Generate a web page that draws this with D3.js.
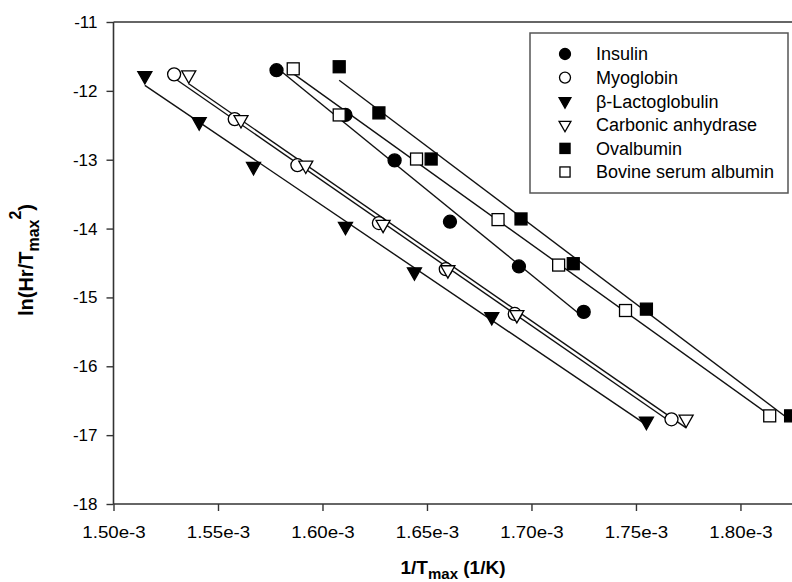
<!DOCTYPE html>
<html>
<head>
<meta charset="utf-8">
<script src="https://cdn.jsdelivr.net/npm/d3@7"></script>
<style>
  html, body { margin: 0; padding: 0; background: #fff; }
  svg { display: block; }
  text { font-family: "Liberation Sans", Arial, sans-serif; }
</style>
</head>
<body>
<svg id="chart" width="792" height="582"></svg>
<script>
// Kinetic plot: ln(Hr/Tmax^2) against 1/Tmax for six proteins (values in 1e-3 1/K)
const seriesNames = ["Insulin", "Myoglobin", "β-Lactoglobulin", "Carbonic anhydrase", "Ovalbumin", "Bovine serum albumin"];

const insulinX = [1.578, 1.611, 1.6345, 1.661, 1.694, 1.725];
const insulinY = [-11.70, -12.35, -13.01, -13.90, -14.55, -15.21];

const myoglobinX = [1.529, 1.558, 1.588, 1.627, 1.659, 1.692, 1.767];
const myoglobinY = [-11.76, -12.41, -13.08, -13.92, -14.59, -15.24, -16.77];

const lactoglobulinX = [1.515, 1.541, 1.567, 1.611, 1.644, 1.681, 1.755];
const lactoglobulinY = [-11.78, -12.45, -13.10, -13.97, -14.63, -15.28, -16.80];

const carbonicX = [1.536, 1.561, 1.592, 1.629, 1.660, 1.693, 1.774];
const carbonicY = [-11.77, -12.42, -13.08, -13.94, -14.60, -15.25, -16.77];

const ovalbuminX = [1.608, 1.627, 1.652, 1.695, 1.720, 1.755, 1.824];
const ovalbuminY = [-11.65, -12.32, -12.99, -13.86, -14.51, -15.17, -16.72];

const bsaX = [1.586, 1.608, 1.645, 1.684, 1.713, 1.745, 1.814];
const bsaY = [-11.68, -12.35, -12.99, -13.87, -14.53, -15.19, -16.72];

const xTicks = [1.50, 1.55, 1.60, 1.65, 1.70, 1.75, 1.80];
const yTicks = [-11, -12, -13, -14, -15, -16, -17, -18];

const markerShapes = ["circle", "circle", "triangleDown", "triangleDown", "square", "square"];
const markerFilled = [true, false, true, false, true, false];

const seriesX = [insulinX, myoglobinX, lactoglobulinX, carbonicX, ovalbuminX, bsaX];
const seriesY = [insulinY, myoglobinY, lactoglobulinY, carbonicY, ovalbuminY, bsaY];

const series = seriesNames.map((name, i) => ({
  name,
  shape: markerShapes[i],
  filled: markerFilled[i],
  points: seriesX[i].map((x, j) => ({ x, y: seriesY[i][j] }))
}));

const svg = d3.select("#chart");
const plot = { left: 113.5, right: 792.7, top: 22, bottom: 504 };

const x = d3.scaleLinear().domain([1.50, 1.825]).range([plot.left, plot.right]);
const y = d3.scaleLinear().domain([-18, -11]).range([plot.bottom, plot.top]);

const axisColor = "#333";
const fontFamily = "'Liberation Sans', Arial, sans-serif";

// frame: top border, left and bottom axes
svg.append("line")
  .attr("x1", plot.left).attr("x2", plot.right)
  .attr("y1", plot.top).attr("y2", plot.top)
  .attr("stroke", axisColor).attr("stroke-width", 1.6);

const yAxis = svg.append("g")
  .attr("transform", `translate(${plot.left},0)`)
  .call(d3.axisLeft(y).tickValues(yTicks).tickSize(7).tickPadding(9).tickFormat(d => String(d)));

const xAxis = svg.append("g")
  .attr("transform", `translate(0,${plot.bottom})`)
  .call(d3.axisBottom(x).tickValues(xTicks).tickSize(7).tickPadding(15)
    .tickFormat(d => d3.format(".2f")(d) + "e-3"));

[xAxis, yAxis].forEach(g => {
  g.select(".domain").attr("stroke", axisColor).attr("stroke-width", 1.6);
  g.selectAll(".tick line").attr("stroke", axisColor).attr("stroke-width", 1.4);
  g.selectAll(".tick text")
    .attr("fill", "#000")
    .style("font-size", "17px")
    .style("font-family", fontFamily);
});
// the left axis runs up to the top border
yAxis.select(".domain").attr("d", `M0,${plot.top}V${plot.bottom}`);
xAxis.select(".domain").attr("d", `M${plot.left},0H${plot.right}`);
// slightly wider x tick labels
xAxis.selectAll(".tick text").attr("transform", "scale(1.1,1)");

// least-squares line for each series, spanning its own x range
function fitLine(points) {
  const mx = d3.mean(points, p => p.x), my = d3.mean(points, p => p.y);
  const sxy = d3.sum(points, p => (p.x - mx) * (p.y - my));
  const sxx = d3.sum(points, p => (p.x - mx) ** 2);
  const b = sxy / sxx, a = my - b * mx;
  const [x0, x1] = d3.extent(points, p => p.x);
  return [{ x: x0, y: a + b * x0 }, { x: x1, y: a + b * x1 }];
}

const line = d3.line().x(d => x(d.x)).y(d => y(d.y));
const lines = svg.append("g");
series.forEach(s => {
  lines.append("path")
    .attr("d", line(fitLine(s.points)))
    .attr("fill", "none")
    .attr("stroke", "#111")
    .attr("stroke-width", 1.4);
});

// marker drawing
function drawMarker(g, shape, filled, cx, cy, size) {
  const fill = filled ? "#000" : "#fff";
  const sw = 1.3;
  if (shape === "circle") {
    g.append("circle").attr("cx", cx).attr("cy", cy).attr("r", size / 2)
      .attr("fill", fill).attr("stroke", "#000").attr("stroke-width", sw);
  } else if (shape === "square") {
    const h = size * 0.92;
    g.append("rect").attr("x", cx - h / 2).attr("y", cy - h / 2)
      .attr("width", h).attr("height", h)
      .attr("fill", fill).attr("stroke", "#000").attr("stroke-width", sw);
  } else {
    const w = size * 1.08, hgt = size * 0.95;
    const pts = [[cx - w / 2, cy - hgt / 3], [cx + w / 2, cy - hgt / 3], [cx, cy + 2 * hgt / 3]];
    g.append("polygon").attr("points", pts.map(p => p.join(",")).join(" "))
      .attr("fill", fill).attr("stroke", "#000").attr("stroke-width", sw)
      .attr("stroke-linejoin", "miter");
  }
}

const marks = svg.append("g");
series.forEach(s => {
  s.points.forEach(p => drawMarker(marks, s.shape, s.filled, x(p.x), y(p.y), 13));
});

// legend
const legend = svg.append("g");
legend.append("rect")
  .attr("x", 530).attr("y", 33).attr("width", 258).attr("height", 160)
  .attr("fill", "#fff").attr("stroke", "#555").attr("stroke-width", 1.5);
const rowY = d3.scalePoint().domain(seriesNames).range([54, 172]);
series.forEach(s => {
  const cy = rowY(s.name);
  drawMarker(legend, s.shape, s.filled, 565, cy, 11);
  legend.append("text")
    .attr("x", 596).attr("y", cy).attr("dy", "0.36em")
    .style("font-size", "18px")
    .text(s.name);
});

// axis titles
const yTitle = svg.append("text")
  .attr("transform", "translate(33,260) rotate(-90)")
  .attr("text-anchor", "middle")
  .style("font-size", "20px").style("font-weight", "bold");
yTitle.append("tspan").text("ln(Hr/T");
yTitle.append("tspan").attr("dy", 6).style("font-size", "16px").text("max");
yTitle.append("tspan").attr("dy", -18).style("font-size", "16px").text("2");
yTitle.append("tspan").attr("dy", 12).text(")");

const xTitle = svg.append("text")
  .attr("x", 453).attr("y", 574)
  .attr("text-anchor", "middle")
  .style("font-size", "19px").style("font-weight", "bold");
xTitle.append("tspan").text("1/T");
xTitle.append("tspan").attr("dy", 5).style("font-size", "15px").text("max");
xTitle.append("tspan").attr("dy", -5).text(" (1/K)");
</script>
</body>
</html>
